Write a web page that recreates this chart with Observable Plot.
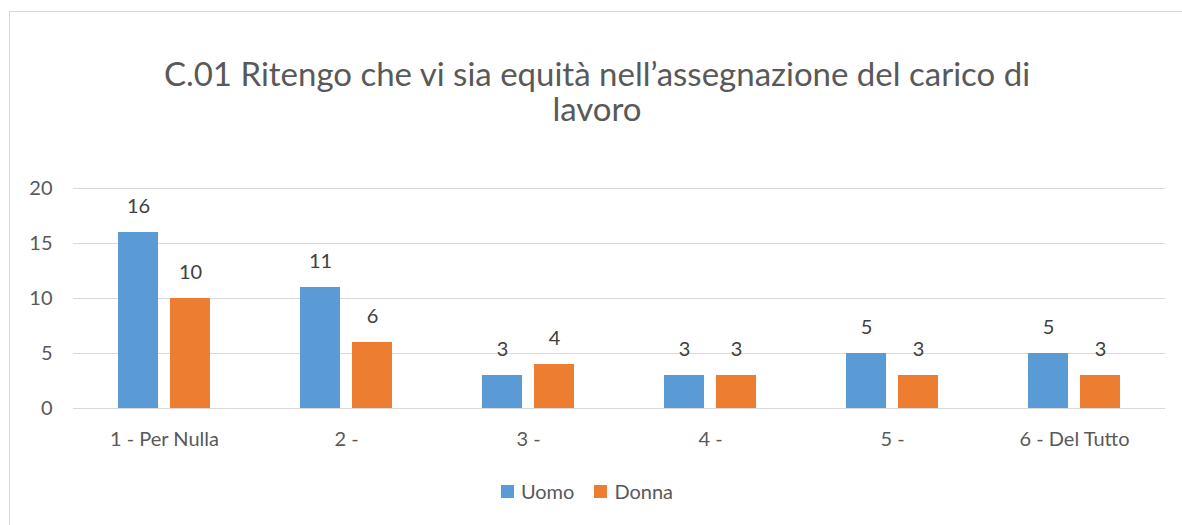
<!DOCTYPE html>
<html>
<head>
<meta charset="utf-8">
<script src="https://cdn.jsdelivr.net/npm/d3@7"></script>
<script src="https://cdn.jsdelivr.net/npm/@observablehq/plot@0.6"></script>
<style>
  html, body { margin: 0; padding: 0; background: #fff; width: 1182px; height: 525px; overflow: hidden; font-family: Lato, "Open Sans", sans-serif; }
  #frame { position: absolute; left: 9px; top: 11px; width: 1200px; height: 540px; border: 1px solid #d9d9d9; box-sizing: border-box; }
  #title { position: absolute; left: 0; top: 56px; width: 1182px; padding-left: 12px; box-sizing: border-box; text-align: center; font-size: 33px; line-height: 35px; color: #595959; white-space: pre-line; }
  #chart { position: absolute; left: 0; top: 170px; }
  #legend { position: absolute; left: 0; top: 479px; width: 1182px; display: flex; justify-content: center; padding-right: 8px; box-sizing: border-box; font-size: 20px; color: #595959; gap: 20px; }
  .item { display: flex; align-items: center; gap: 7px; }
  .sw { width: 13px; height: 13px; display: inline-block; }
</style>
</head>
<body>
<div id="frame"></div>
<div id="title"></div>
<div id="chart"></div>
<div id="legend"></div>
<script>
const titleText = "C.01 Ritengo che vi sia equità nell’assegnazione del carico di\nlavoro";
const categories = ["1 - Per Nulla", "2 -", "3 -", "4 -", "5 -", "6 - Del Tutto"];
const series = ["Uomo", "Donna"];
const uomo = [16, 11, 3, 3, 5, 5];
const donna = [10, 6, 4, 3, 3, 3];
const colors = ["#5b9bd5", "#ed7d31"];
const yTicks = [0, 5, 10, 15, 20];

document.getElementById("title").textContent = titleText;

const data = [];
categories.forEach((c, i) => {
  data.push({cat: c, series: series[0], value: uomo[i]});
  data.push({cat: c, series: series[1], value: donna[i]});
});

const chart = Plot.plot({
  width: 1182,
  height: 290,
  marginLeft: 73,
  marginRight: 17,
  marginTop: 18,
  marginBottom: 52,
  style: { fontFamily: "Lato, 'Open Sans', sans-serif", background: "transparent" },
  fx: { domain: categories, padding: 0, label: null },
  x: { domain: series, paddingInner: 0.2308, paddingOuter: 0.865, axis: null },
  y: { domain: [0, 20], label: null },
  color: { domain: series, range: colors },
  marks: [
    Plot.gridY(yTicks, { stroke: "#d9d9d9", strokeOpacity: 1, strokeWidth: 1 }),
    Plot.axisY(yTicks, { tickSize: 0, tickPadding: 21, fontSize: 20, fill: "#595959", label: null }),
    Plot.axisFx({ anchor: "bottom", tickSize: 0, tickPadding: 23, fontSize: 20, fill: "#595959", label: null }),
    Plot.barY(data, { fx: "cat", x: "series", y: "value", fill: "series" }),
    Plot.text(data, { fx: "cat", x: "series", y: "value", text: d => String(d.value), dy: -26, fontSize: 20, fill: "#404040" })
  ]
});
document.getElementById("chart").appendChild(chart);

const legend = document.getElementById("legend");
series.forEach((s, i) => {
  const item = document.createElement("div");
  item.className = "item";
  const sw = document.createElement("span");
  sw.className = "sw";
  sw.style.background = colors[i];
  const t = document.createElement("span");
  t.textContent = s;
  item.appendChild(sw);
  item.appendChild(t);
  legend.appendChild(item);
});
</script>
</body>
</html>
